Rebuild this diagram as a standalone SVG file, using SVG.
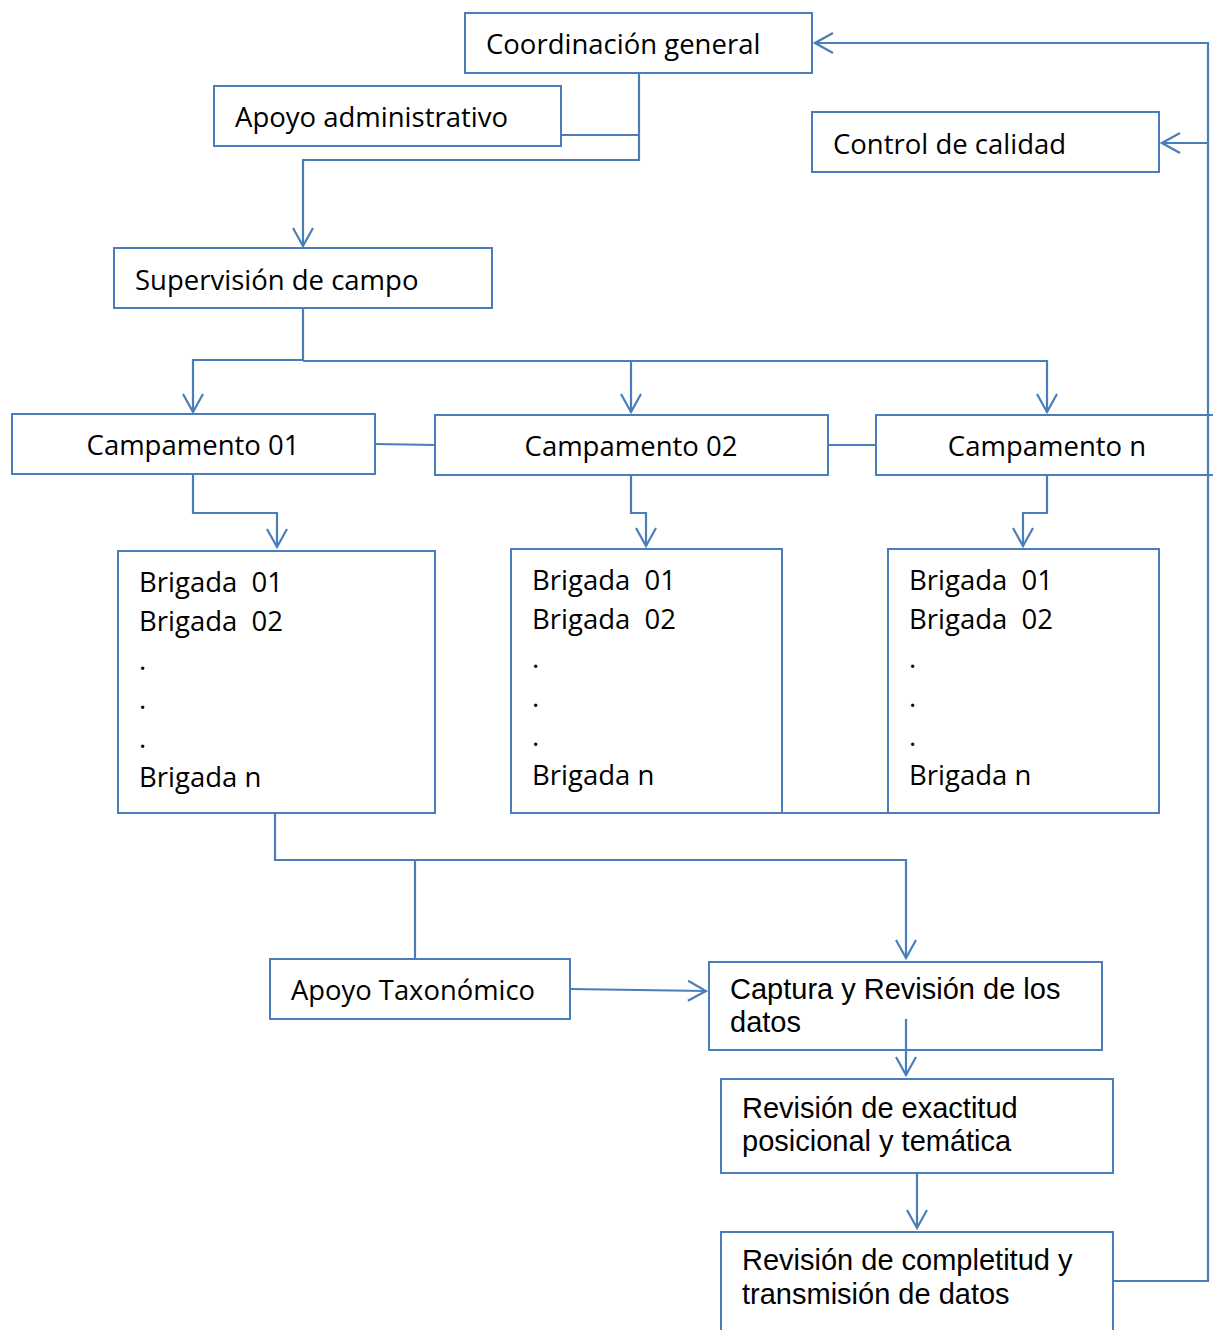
<svg xmlns="http://www.w3.org/2000/svg" width="1213" height="1330" viewBox="0 0 1213 1330">
<style>
.box{fill:#fff;stroke:#4A7EBB;stroke-width:2}
.ln{fill:none;stroke:#4A7EBB;stroke-width:2.2}
.c{font-family:"Open Sans","Noto Sans",sans-serif;font-size:27.5px;fill:#000}
.a{font-family:"Liberation Sans",Arial,sans-serif;font-size:29px;fill:#000}
.m{text-anchor:middle}
</style>
<defs>
<marker id="arr" markerUnits="userSpaceOnUse" markerWidth="24" markerHeight="24" viewBox="0 0 24 24" refX="22" refY="12" orient="auto">
<path d="M4,2 L22,12 L4,22" fill="none" stroke="#4A7EBB" stroke-width="2.2"/>
</marker>
</defs>
<g id="coordinacion">
<rect class="box" x="465" y="13" width="347" height="60"/>
<text class="c" x="486" y="54">Coordinación general</text>
</g>
<g id="apoyo-admin">
<rect class="box" x="214" y="86" width="347" height="60"/>
<text class="c" x="235" y="127">Apoyo administrativo</text>
</g>
<g id="control-calidad">
<rect class="box" x="812" y="112" width="347" height="60"/>
<text class="c" x="833" y="154">Control de calidad</text>
</g>
<g id="supervision">
<rect class="box" x="114" y="248" width="378" height="60"/>
<text class="c" x="135" y="290">Supervisión de campo</text>
</g>
<g id="campamento01">
<rect class="box" x="12" y="414" width="363" height="60"/>
<text class="c m" x="193" y="455">Campamento 01</text>
</g>
<g id="campamento02">
<rect class="box" x="435" y="415" width="393" height="60"/>
<text class="c m" x="631" y="456">Campamento 02</text>
</g>
<g id="campamenton">
<rect class="box" x="876" y="415" width="345" height="60"/>
<text class="c m" x="1047" y="456">Campamento n</text>
</g>
<g id="brigadas1">
<rect class="box" x="118" y="551" width="317" height="262"/>
<text class="c" x="139" y="592" xml:space="preserve">Brigada  01</text>
<text class="c" x="139" y="631" xml:space="preserve">Brigada  02</text>
<text class="c" x="139" y="670">.</text>
<text class="c" x="139" y="709">.</text>
<text class="c" x="139" y="748">.</text>
<text class="c" x="139" y="787">Brigada n</text>
</g>
<g id="brigadas2">
<rect class="box" x="511" y="549" width="271" height="264"/>
<text class="c" x="532" y="590" xml:space="preserve">Brigada  01</text>
<text class="c" x="532" y="629" xml:space="preserve">Brigada  02</text>
<text class="c" x="532" y="668">.</text>
<text class="c" x="532" y="707">.</text>
<text class="c" x="532" y="746">.</text>
<text class="c" x="532" y="785">Brigada n</text>
</g>
<g id="brigadas3">
<rect class="box" x="888" y="549" width="271" height="264"/>
<text class="c" x="909" y="590" xml:space="preserve">Brigada  01</text>
<text class="c" x="909" y="629" xml:space="preserve">Brigada  02</text>
<text class="c" x="909" y="668">.</text>
<text class="c" x="909" y="707">.</text>
<text class="c" x="909" y="746">.</text>
<text class="c" x="909" y="785">Brigada n</text>
</g>
<g id="apoyo-taxonomico">
<rect class="box" x="270" y="959" width="300" height="60"/>
<text class="c" x="291" y="1000" textLength="244" lengthAdjust="spacingAndGlyphs">Apoyo Taxonómico</text>
</g>
<g id="captura">
<rect class="box" x="709" y="962" width="393" height="88"/>
<text class="a" x="730" y="999">Captura y Revisión de los</text>
<text class="a" x="730" y="1032">datos</text>
</g>
<g id="exactitud">
<rect class="box" x="721" y="1079" width="392" height="94"/>
<text class="a" x="742" y="1118">Revisión de exactitud</text>
<text class="a" x="742" y="1151">posicional y temática</text>
</g>
<g id="completitud">
<rect class="box" x="721" y="1232" width="392" height="110"/>
<text class="a" x="742" y="1270">Revisión de completitud y</text>
<text class="a" x="742" y="1304">transmisión de datos</text>
</g>
<g id="connectors">
<path class="ln" d="M639,73 V160 H303 V246" marker-end="url(#arr)"/>
<path class="ln" d="M561,135 H639"/>
<path class="ln" d="M303,308 V360 H193 V412" marker-end="url(#arr)"/>
<path class="ln" d="M303,361 H1047 V412" marker-end="url(#arr)"/>
<path class="ln" d="M631,361 V412" marker-end="url(#arr)"/>
<path class="ln" d="M375,444 L435,445"/>
<path class="ln" d="M828,445 H876"/>
<path class="ln" d="M193,474 V513 H277 V547" marker-end="url(#arr)"/>
<path class="ln" d="M631,475 V513 H646 V546" marker-end="url(#arr)"/>
<path class="ln" d="M1047,475 V513 H1023 V546" marker-end="url(#arr)"/>
<path class="ln" d="M782,813 H888"/>
<path class="ln" d="M275,813 V860 H906 V958" marker-end="url(#arr)"/>
<path class="ln" d="M415,860 V959"/>
<path class="ln" d="M570,989 L706,991" marker-end="url(#arr)"/>
<path class="ln" d="M906,1019 V1075" marker-end="url(#arr)"/>
<path class="ln" d="M917,1173 V1228" marker-end="url(#arr)"/>
<path class="ln" d="M1113,1281 H1208 V43 H815" marker-end="url(#arr)"/>
<path class="ln" d="M1208,143 H1162" marker-end="url(#arr)"/>
</g>
</svg>
